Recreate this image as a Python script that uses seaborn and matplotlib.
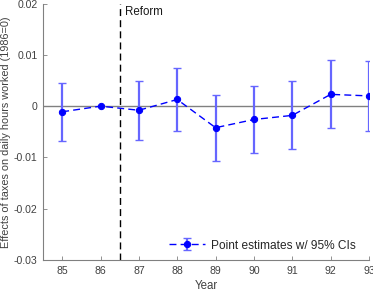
import matplotlib
matplotlib.use("Agg")
import matplotlib.pyplot as plt
import seaborn as sns
import numpy as np
import pandas as pd
from matplotlib.legend_handler import HandlerTuple

years = [85, 86, 87, 88, 89, 90, 91, 92, 93]
estimates = [-0.0011, 0.0, -0.0008, 0.0013, -0.0042, -0.0026, -0.0018, 0.0023, 0.0020]
ci_upper = [0.0045, np.nan, 0.0049, 0.0074, 0.0021, 0.0039, 0.0049, 0.0090, 0.0088]
ci_lower = [-0.0068, np.nan, -0.0066, -0.0048, -0.0106, -0.0092, -0.0084, -0.0042, -0.0049]
yticks = [-0.03, -0.02, -0.01, 0, 0.01, 0.02]
ytick_labels = ["-0.03", "-0.02", "-0.01", "0", "0.01", "0.02"]

sns.set_style("white")
plt.rcParams['font.family'] = ['Liberation Sans', 'DejaVu Sans']

df = pd.DataFrame({"year": years, "est": estimates, "lo": ci_lower, "hi": ci_upper})

fig = plt.figure(figsize=(3.73, 2.92), dpi=100)
ax = fig.add_axes([43/373, 32/292, (369-43)/373, (260-3.6)/292])

ax.axhline(0, color="#808080", lw=1.0, zorder=1)
ax.axvline(86.5, color="black", lw=1.0, ls=(0, (5, 3)), zorder=1)

est = np.array(estimates)
yerr = np.vstack([est - np.array(ci_lower), np.array(ci_upper) - est])
eb = ax.errorbar(years, estimates, yerr=yerr, fmt="none", ecolor=(0.4, 0.4, 1.0),
                 elinewidth=1.6, capsize=3, capthick=1.0, zorder=2)
for cap in eb[1]:
    cap.set_color((0.1, 0.1, 1.0))

sns.lineplot(data=df, x="year", y="est", ax=ax, color="blue", marker="o",
             markersize=4.5, markeredgecolor="blue", linestyle=(0, (5, 3)), lw=1.0,
             legend=False, zorder=3)
line = ax.lines[-1]

ax.text(86.65, 0.0195, "Reform", fontsize=8.3, va="top", ha="left", color="#1a1a1a")

ax.set_xlim(84.5, 93)
ax.set_ylim(-0.03, 0.02)
ax.set_xticks(years)
ax.set_xticklabels([str(y) for y in years])
ax.set_yticks(yticks)
ax.set_yticklabels(ytick_labels)
ax.tick_params(direction="in", length=3, width=0.6, colors="#808080", labelcolor="#404040",
               labelsize=7.6, pad=4)
ax.tick_params(axis="both", which="both", bottom=True, left=True)
for s in ["top", "right"]:
    ax.spines[s].set_visible(False)
for s in ["left", "bottom"]:
    ax.spines[s].set_color("#808080")
    ax.spines[s].set_linewidth(0.8)

ax.set_xlabel("Year", fontsize=8.3, labelpad=3, color="#404040")
ax.set_ylabel("Effects of taxes on daily hours worked (1986=0)", fontsize=7.8, labelpad=2,
              color="#404040")

ax.legend([(eb, line)], ["Point estimates w/ 95% CIs"], handler_map={tuple: HandlerTuple(ndivide=1)},
          loc="lower right", frameon=False, fontsize=8.6, handlelength=3.0,
          handletextpad=0.5, borderaxespad=0.4, borderpad=0.3, bbox_to_anchor=(0.985, 0.0))

fig.savefig("out.png", dpi=100)
